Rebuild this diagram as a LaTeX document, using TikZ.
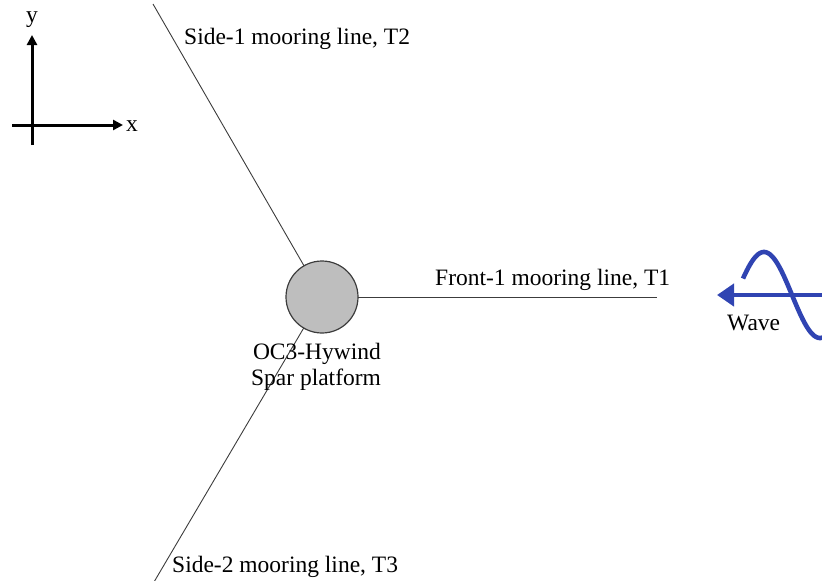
\documentclass[tikz,border=0pt]{standalone}
\usepackage{fontspec}
\setmainfont{Liberation Serif}
\usetikzlibrary{arrows.meta}
\definecolor{waveblue}{RGB}{48,68,178}
\definecolor{linegray}{RGB}{60,60,60}
\begin{document}
\begin{tikzpicture}[x=1pt,y=-1pt,
  lbl/.style={font=\fontsize{23.5}{27}\selectfont, inner sep=0pt, anchor=base west},
  moor/.style={draw=linegray, line width=0.9pt},
  axis/.style={line width=3pt, -{Triangle[length=10pt,width=10pt]}},
  wavestyle/.style={draw=waveblue, line width=4.6pt}]
\useasboundingbox (0,0) rectangle (822,581);
% mooring lines
\coordinate (t2) at (153,4);
\coordinate (t3) at (154,582);
\coordinate (t1) at (657,297);
\node[circle, minimum size=72pt, inner sep=0pt] (p) at (322,297) {};
\draw[moor] (p.center) -- (t2);
\draw[moor] (p.center) -- (t3);
\draw[moor] (p.center) -- (t1);
\node[circle, minimum size=72pt, inner sep=0pt, draw=linegray, line width=1.2pt, fill={rgb,255:red,190;green,190;blue,190}] at (322,297) {};
% labels
\node[lbl] (l2) at (184,44) {Side-1 mooring line, T2};
\node[lbl] (l1) at (435,285) {Front-1 mooring line, T1};
\node[lbl] (l3) at (172,572) {Side-2 mooring line, T3};
\node[lbl, anchor=base] (oc) at (317,359) {OC3-Hywind};
\node[lbl, anchor=base] (sp) at (316,385) {Spar platform};
% axes
\coordinate (ybot) at (32,145);
\coordinate (ytop) at (32,35);
\coordinate (xl) at (12,125);
\coordinate (xr) at (123,125);
\draw[axis] (ybot) -- (ytop);
\draw[axis] (xl) -- (xr);
\node[font=\fontsize{23.5}{27}\selectfont, inner sep=0pt] (ylab) at (32,20) {y};
\node[font=\fontsize{23.5}{27}\selectfont, inner sep=0pt] (xlab) at (132,126) {x};
% wave
\draw[wavestyle] plot[domain=-49:31, samples=80, smooth] ({792+\x},{295+43*sin(\x*90/28)});
\coordinate (wr) at (823,295);
\coordinate (wl) at (717,295);
\draw[wavestyle, -{Triangle[length=17pt,width=22pt]}] (wr) -- (wl);
\node[lbl] (wv) at (727,330) {Wave};
\end{tikzpicture}
\end{document}
